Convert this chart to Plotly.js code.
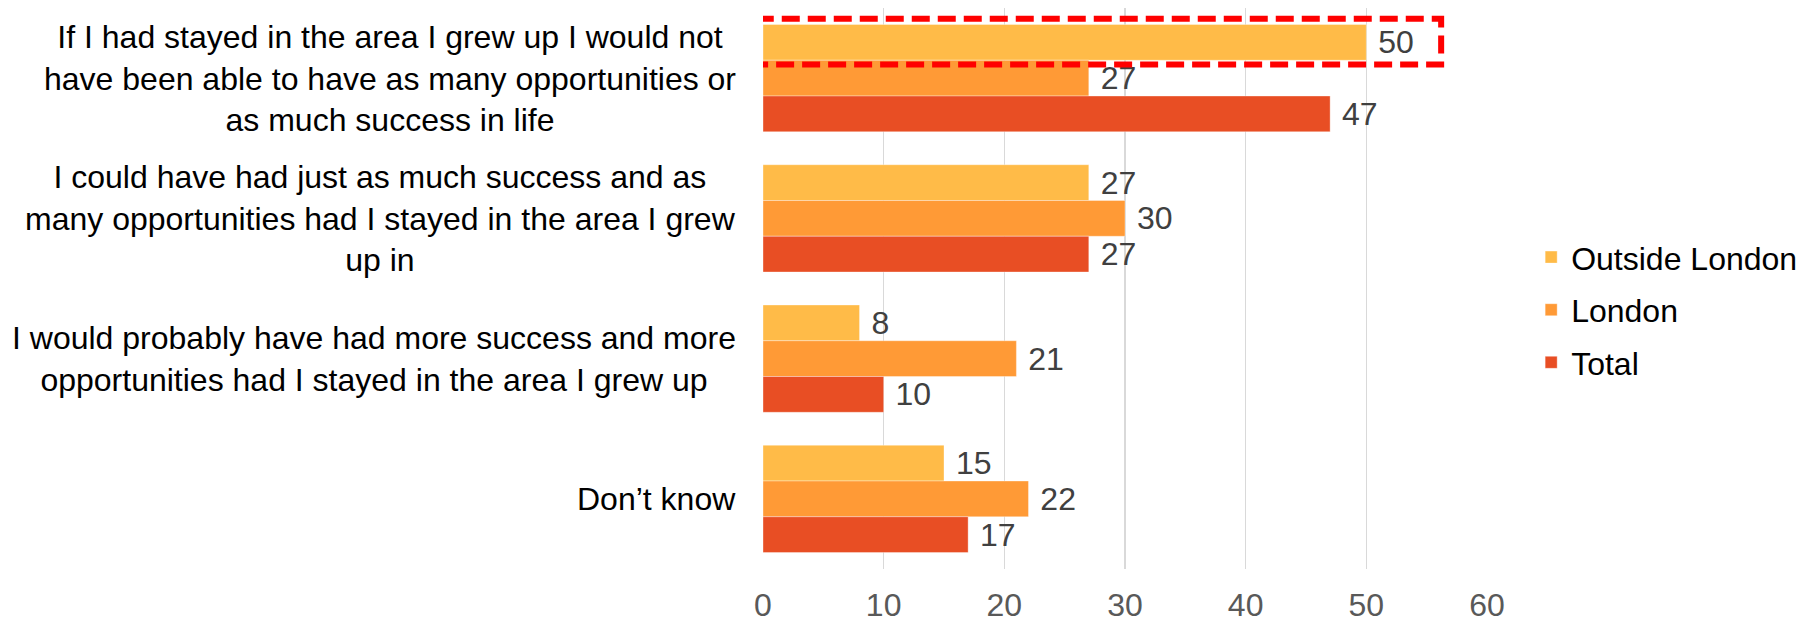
<!DOCTYPE html>
<html>
<head>
<meta charset="utf-8">
<script src="https://cdn.plot.ly/plotly-3.0.1.min.js"></script>
<style>
  html, body { margin: 0; padding: 0; background: #ffffff; }
  #chart { width: 1812px; height: 621px; }
</style>
</head>
<body>
<div id="chart"></div>
<script>
// ---- data ----
const categories = [
  "If I had stayed in the area I grew up I would not<br>have been able to have as many opportunities or<br>as much success in life",
  "I could have had just as much success and as<br>many opportunities had I stayed in the area I grew<br>up in",
  "I would probably have had more success and more<br>opportunities had I stayed in the area I grew up",
  "Don\u2019t know"
];
const seriesNames = ["Outside London", "London", "Total"];
const outsideLondon = [50, 27, 8, 15];
const london = [27, 30, 21, 22];
const total = [47, 27, 10, 17];
const xTicks = [0, 10, 20, 30, 40, 50, 60];

// ---- style ----
const colors = ["#FFBB48", "#FF9A36", "#E84E24"];
const FONT = "'Liberation Sans', Arial, sans-serif";
const values = [outsideLondon, london, total];
const BARGAP = 0.235;

const traces = values.map((vals, i) => ({
  type: "bar",
  orientation: "h",
  name: seriesNames[i],
  legendgroup: "g" + i,
  y: categories,
  x: vals,
  marker: { color: colors[i], line: { color: "rgba(255,255,255,0.35)", width: 1 } },
  text: vals.map(v => "\u00A0" + v),
  textposition: "outside",
  textfont: { family: FONT, size: 32, color: "#404040" },
  constraintext: "none",
  cliponaxis: false,
  hoverinfo: "skip"
}));

// highlight box around the first series' bar of the first category
const nSeries = values.length;
const barW = (1 - BARGAP) / nSeries;
const hlTop = -(1 - BARGAP) / 2;          // top edge of first bar (reversed axis)
const hlBottom = hlTop + barW;
const shapes = [{
  type: "rect",
  xref: "x", yref: "y",
  x0: -0.6, x1: outsideLondon[0] + 6.2,
  y0: hlTop - 0.04, y1: hlBottom + 0.03,
  line: { color: "#FF0000", width: 6, dash: "18px,8px" },
  fillcolor: "rgba(0,0,0,0)"
}];

const annotations = categories.map(c => ({
  xref: "paper", yref: "y",
  x: 0, y: c,
  xanchor: "right", yanchor: "middle",
  xshift: -25,
  align: "center",
  showarrow: false,
  text: c,
  font: { family: FONT, size: 32, color: "#000000" }
}));

const layout = {
  width: 1812, height: 621,
  margin: { l: 763, r: 325, t: 8, b: 52, pad: 0 },
  paper_bgcolor: "#ffffff",
  plot_bgcolor: "#ffffff",
  font: { family: FONT, size: 32, color: "#000000" },
  barmode: "group",
  bargap: BARGAP,
  bargroupgap: 0,
  showlegend: true,
  legend: {
    x: 1.061, y: 0.462, xanchor: "left", yanchor: "middle",
    font: { family: FONT, size: 32, color: "#000000" },
    bgcolor: "rgba(0,0,0,0)",
    traceorder: "grouped",
    tracegroupgap: 8
  },
  xaxis: {
    range: [0, 60],
    tickvals: xTicks,
    ticktext: xTicks.map(String),
    showgrid: true,
    gridcolor: "#D9D9D9",
    gridwidth: 1.6,
    zeroline: false,
    showline: false,
    ticks: "",
    ticklabelstandoff: 14,
    tickfont: { family: FONT, size: 32, color: "#595959" },
    fixedrange: true
  },
  yaxis: {
    type: "category",
    autorange: "reversed",
    showticklabels: false,
    showgrid: false,
    zeroline: false,
    showline: false,
    ticks: "",
    fixedrange: true
  },
  shapes: shapes,
  annotations: annotations
};

Plotly.newPlot("chart", traces, layout, { displayModeBar: false, staticPlot: true });
</script>
</body>
</html>
